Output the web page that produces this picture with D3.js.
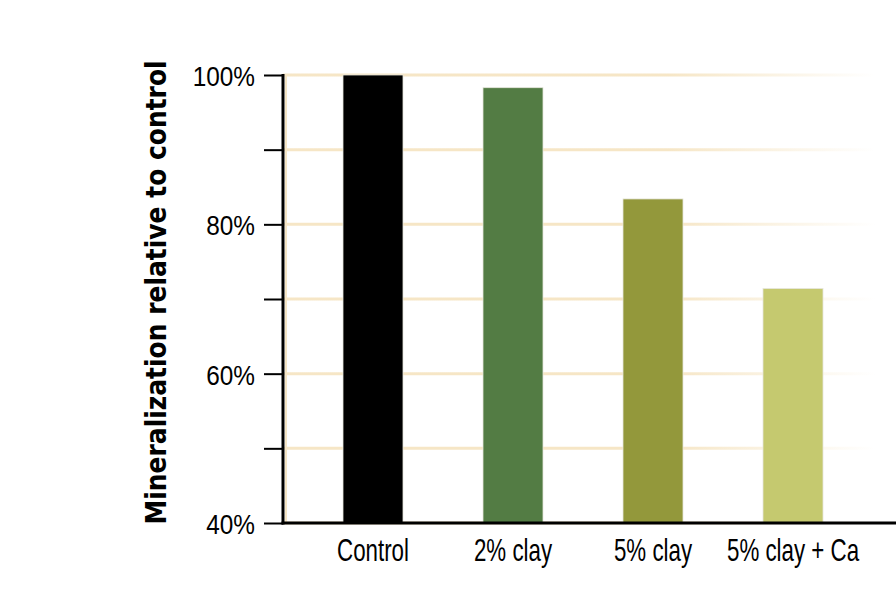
<!DOCTYPE html>
<html>
<head>
<meta charset="utf-8">
<script src="https://cdn.jsdelivr.net/npm/d3@7"></script>
<style>
  body { margin: 0; background: #fff; }
  svg { display: block; font-family: "Liberation Sans", Arial, sans-serif; }
</style>
</head>
<body>
<svg width="896" height="600"></svg>
<script>
const categories = ["Control", "2% clay", "5% clay", "5% clay + Ca"];
const values = [100, 98.3, 83.4, 71.4];
const barColors = ["#000000", "#537c44", "#93983b", "#c5c96f"];
const yTicks = [40, 50, 60, 70, 80, 90, 100];
const yLabels = {40: "40%", 60: "60%", 80: "80%", 100: "100%"};

const svg = d3.select("svg");

const area = { left: 283, right: 896, top: 75, bottom: 523 };

const scX = d3.scaleBand()
    .domain(categories)
    .range([area.left + 20, area.left + 580])
    .paddingInner(4 / 7)
    .paddingOuter(2 / 7);

const scY = d3.scaleLinear()
    .domain([40, 100])
    .range([area.bottom, area.top]);

// gradient for grid lines fading to the right
const defs = svg.append("defs");
const grad = defs.append("linearGradient")
    .attr("id", "gridFade")
    .attr("gradientUnits", "userSpaceOnUse")
    .attr("x1", area.left).attr("x2", 875)
    .attr("y1", 0).attr("y2", 0);
grad.append("stop").attr("offset", "0%").attr("stop-color", "#f6e6c6").attr("stop-opacity", 1);
grad.append("stop").attr("offset", "65%").attr("stop-color", "#f6e6c6").attr("stop-opacity", 1);
grad.append("stop").attr("offset", "100%").attr("stop-color", "#f6e6c6").attr("stop-opacity", 0);

// grid lines
svg.append("g")
    .selectAll("line")
    .data(yTicks)
    .join("line")
    .attr("x1", area.left)
    .attr("x2", 875)
    .attr("y1", d => scY(d))
    .attr("y2", d => scY(d))
    .attr("stroke", "url(#gridFade)")
    .attr("stroke-width", 3);

// faint vertical line inside the axis
svg.append("line")
    .attr("x1", area.left + 3).attr("x2", area.left + 3)
    .attr("y1", area.top).attr("y2", area.bottom)
    .attr("stroke", "#f6e6c6")
    .attr("stroke-width", 2);

// bars
svg.append("g")
    .selectAll("rect")
    .data(categories)
    .join("rect")
    .attr("x", d => scX(d))
    .attr("width", scX.bandwidth())
    .attr("y", (d, i) => scY(values[i]))
    .attr("height", (d, i) => area.bottom - scY(values[i]))
    .attr("fill", (d, i) => barColors[i])
    .attr("stroke", "#e6e6dc")
    .attr("stroke-width", 0.8);

// y axis (labels narrowed: the original uses a condensed face)
const axisY = d3.axisLeft(scY)
    .tickValues(yTicks)
    .tickSize(19)
    .tickPadding(0)
    .tickFormat(d => yLabels[d] || "");

const gY = svg.append("g")
    .attr("transform", `translate(${area.left},0)`)
    .call(axisY);
gY.select(".domain").remove();
gY.selectAll(".tick line").attr("stroke", "#000").attr("stroke-width", 2);
gY.selectAll(".tick text")
    .attr("x", 0)
    .attr("font-size", 28)
    .attr("fill", "#000")
    .attr("dy", "0.38em")
    .attr("transform", "translate(-28,0) scale(0.87,1)");

svg.append("line")
    .attr("x1", area.left).attr("x2", area.left)
    .attr("y1", area.top - 1).attr("y2", area.bottom + 1.5)
    .attr("stroke", "#000")
    .attr("stroke-width", 3);

// x axis
const axisX = d3.axisBottom(scX).tickSize(0).tickPadding(16);
const gX = svg.append("g")
    .attr("transform", `translate(0,${area.bottom})`)
    .call(axisX);
gX.select(".domain").remove();
gX.selectAll(".tick text")
    .attr("font-size", 31)
    .attr("fill", "#000")
    .attr("transform", "scale(0.72,1)");

svg.append("line")
    .attr("x1", area.left - 1.5).attr("x2", area.right)
    .attr("y1", area.bottom).attr("y2", area.bottom)
    .attr("stroke", "#000")
    .attr("stroke-width", 3);

// y axis title
svg.append("text")
    .attr("transform", `translate(166,${(62 + 523) / 2}) rotate(-90) scale(0.957,1)`)
    .attr("text-anchor", "middle")
    .attr("font-family", "'DejaVu Sans Condensed', 'DejaVu Sans', sans-serif")
    .attr("font-size", 29)
    .attr("font-weight", "bold")
    .attr("fill", "#000")
    .text("Mineralization relative to control");
</script>
</body>
</html>
